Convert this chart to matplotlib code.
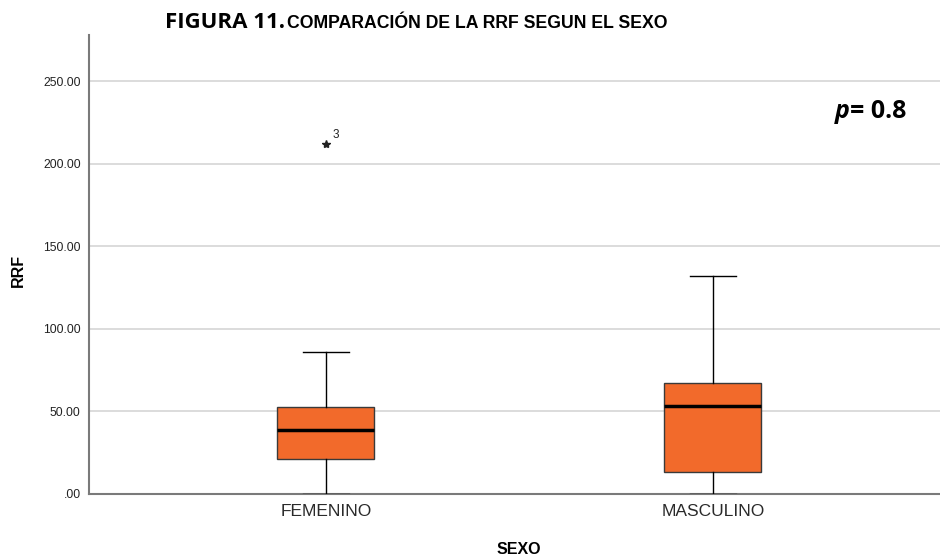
import matplotlib
matplotlib.use("Agg")
import matplotlib.pyplot as plt
from matplotlib.ticker import FuncFormatter

# Box-plot summaries of RRF by sex
groups = ["FEMENINO", "MASCULINO"]
whisker_low = [0.0, 0.0]
q1 = [21.5, 13.5]
median = [38.5, 53.5]
q3 = [52.5, 67.5]
whisker_high = [86.0, 132.0]
outlier_values = [[212.0], []]
outlier_ids = [["3"], []]

yticks = [0, 50, 100, 150, 200, 250]

fig = plt.figure(figsize=(9.4, 5.58), dpi=100)
ax = fig.add_axes([89 / 940, 64 / 558, 851 / 940, 459 / 558])

stats = []
for i, g in enumerate(groups):
    stats.append(dict(label=g, whislo=whisker_low[i], q1=q1[i], med=median[i],
                      q3=q3[i], whishi=whisker_high[i], fliers=[]))

positions = list(range(len(groups)))
ax.bxp(stats, positions=positions, widths=0.25, capwidths=0.12,
       patch_artist=True, showfliers=False,
       boxprops=dict(facecolor="#f26a2b", edgecolor="#3a3a3a", linewidth=1.0),
       medianprops=dict(color="black", linewidth=2.5),
       whiskerprops=dict(color="black", linewidth=1.0),
       capprops=dict(color="black", linewidth=1.0),
       zorder=3)

# Extreme values drawn as stars with their case numbers
for i, (vals, ids) in enumerate(zip(outlier_values, outlier_ids)):
    for v, lab in zip(vals, ids):
        ax.plot(positions[i], v, marker="*", color="#222222", markersize=6,
                linestyle="none", zorder=4)
        ax.annotate(lab, (positions[i], v), xytext=(4.5, 4),
                    textcoords="offset points", fontsize=8.5,
                    family="Liberation Sans", color="#222222")

ax.set_xlim(-0.612, 1.587)
ax.set_ylim(0, 278)
ax.set_yticks(yticks)
ax.yaxis.set_major_formatter(FuncFormatter(
    lambda v, _: ".00" if v == 0 else f"{v:.2f}"))
ax.set_xticks(positions)
ax.set_xticklabels(groups, family="Liberation Sans", fontsize=12.5, color="#2a2a2a")
for t in ax.get_yticklabels():
    t.set_family("Liberation Sans")
    t.set_fontsize(8.7)
    t.set_color("#222222")
ax.tick_params(axis="both", length=0)
ax.tick_params(axis="x", pad=7)
ax.tick_params(axis="y", pad=6)

ax.grid(axis="y", color="#d6d6d6", linewidth=1.2, zorder=0)
ax.set_axisbelow(True)
for s in ["top", "right"]:
    ax.spines[s].set_visible(False)
ax.spines["left"].set_color("#7a7a7a")
ax.spines["left"].set_linewidth(1.5)
ax.spines["bottom"].set_color("#7a7a7a")
ax.spines["bottom"].set_linewidth(1.5)

fig.text(18 / 940, 1 - 270 / 558, "RRF", rotation=90, ha="center", va="center",
         family="Liberation Sans", fontweight="bold", fontsize=11.5)
fig.text(519 / 940, 1 - 549 / 558, "SEXO", ha="center", va="center",
         family="Liberation Sans", fontweight="bold", fontsize=11.5)

fig.text(165 / 940, 1 - 22 / 558, "FIGURA 11.", ha="left", va="center",
         family="Open Sans", fontweight="bold", fontsize=16)
fig.text(287 / 940, 1 - 23 / 558, "COMPARACIÓN DE LA RRF SEGUN EL SEXO",
         ha="left", va="center", family="Liberation Sans", fontweight="bold",
         fontsize=12.7)

fig.text(835 / 940, 1 - 112 / 558, "p", ha="left", va="center",
         family="Open Sans", fontweight="bold", style="italic", fontsize=18)
fig.text(850 / 940, 1 - 112 / 558, "= 0.8", ha="left", va="center",
         family="Open Sans", fontweight="bold", fontsize=18)

fig.savefig("out.png", dpi=100)
